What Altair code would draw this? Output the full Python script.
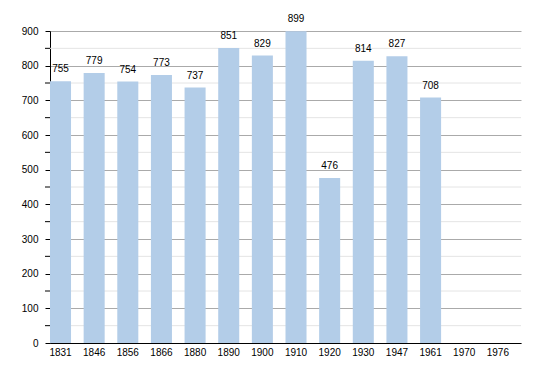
import altair as alt
import pandas as pd

years = ["1831", "1846", "1856", "1866", "1880", "1890", "1900", "1910",
         "1920", "1930", "1947", "1961", "1970", "1976"]
population = [755, 779, 754, 773, 737, 851, 829, 899, 476, 814, 827, 708, None, None]
major_ticks = [0, 100, 200, 300, 400, 500, 600, 700, 800, 900]
minor_ticks = [50, 150, 250, 350, 450, 550, 650, 750, 850]

df = pd.DataFrame({"year": years, "pop": population})
minor_df = pd.DataFrame({"v": minor_ticks})

y_scale = alt.Scale(domain=[0, 900], nice=False)
y_axis = alt.Axis(title=None, values=major_ticks, labelOverlap=False,
                  grid=True, gridColor="#aaaaaa",
                  tickColor="black", tickSize=5, labelPadding=7,
                  domainColor="black", labelFont="Liberation Sans",
                  labelFontSize=10, labelColor="black")

x_enc = alt.X("year:N", sort=years,
              scale=alt.Scale(domain=years, paddingInner=0.375, paddingOuter=0.1875, align=0),
              axis=alt.Axis(title=None, labelAngle=0, ticks=False, labelPadding=4,
                            domainColor="black", labelFont="Liberation Sans",
                            labelFontSize=10, labelColor="black", grid=False))

minor_grid = alt.Chart(minor_df).mark_rule(color="#e4e4e4", strokeWidth=1).encode(
    y=alt.Y("v:Q", scale=y_scale, axis=y_axis),
    x=alt.value(0), x2=alt.value(471),
)
minor_tick = alt.Chart(minor_df).mark_rule(color="black", strokeWidth=1).encode(
    y=alt.Y("v:Q", scale=y_scale, axis=y_axis),
    x=alt.value(-5), x2=alt.value(0),
)

bars = alt.Chart(df).mark_bar(color="#b3cde8").encode(
    x=x_enc,
    y=alt.Y("pop:Q", scale=y_scale, axis=y_axis),
)

labels = alt.Chart(df).transform_filter("isValid(datum.pop)").mark_text(
    dy=-7, baseline="bottom", font="Liberation Sans", fontSize=10, color="black"
).encode(
    x=alt.X("year:N", sort=years),
    y=alt.Y("pop:Q", scale=y_scale, axis=y_axis),
    text=alt.Text("pop:Q"),
)

chart = (minor_grid + bars + labels + minor_tick).properties(
    width=471, height=312,
    autosize=alt.AutoSizeParams(type="none"),
    padding={"left": 42, "top": 23, "right": 21, "bottom": 20},
).configure_view(stroke=None)

chart.save("out.html", embed_options={"renderer": "svg", "actions": False})
